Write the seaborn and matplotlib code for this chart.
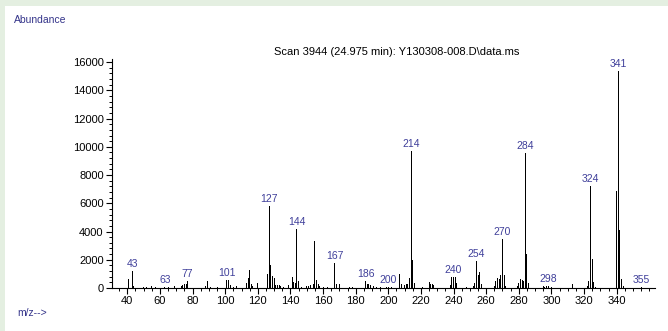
import matplotlib
matplotlib.use("Agg")
import matplotlib.pyplot as plt
from matplotlib.patches import Rectangle
from matplotlib.ticker import FixedLocator, MultipleLocator
import pandas as pd
import seaborn as sns

# Mass spectrum: m/z values and their abundances
mz = [41, 43, 44, 50, 52, 55, 57, 63, 65, 69, 73, 74, 75, 76, 77, 87, 88, 89, 91,
      95, 101, 102, 103, 105, 107, 113, 114, 115, 116, 117, 120, 126, 127, 128,
      129, 130, 131, 132, 133, 134, 136, 139, 141, 142, 143, 144, 145, 147, 150,
      151, 152, 154, 155, 156, 157, 158, 160, 163, 167, 168, 170, 176, 178, 186,
      187, 188, 189, 191, 193, 195, 199, 200, 202, 207, 208, 209, 210, 211, 212,
      213, 214, 215, 216, 221, 225, 226, 227, 228, 238, 239, 240, 241, 242, 248,
      252, 253, 254, 255, 256, 257, 265, 266, 267, 268, 269, 270, 271, 272, 279,
      280, 281, 282, 283, 284, 285, 286, 293, 295, 296, 297, 298, 300, 312, 313,
      322, 323, 324, 325, 326, 327, 340, 341, 342, 343, 344, 355]
abundance = [650, 1200, 120, 80, 100, 150, 80, 100, 60, 120, 150, 200, 250, 300,
             500, 250, 150, 500, 100, 80, 560, 540, 200, 100, 150, 350, 700, 1250,
             300, 120, 350, 970, 5800, 1600, 870, 700, 200, 200, 200, 150, 100,
             200, 750, 400, 350, 4200, 500, 100, 150, 150, 200, 250, 3300, 550,
             250, 150, 100, 100, 1750, 300, 300, 100, 100, 500, 280, 250, 200,
             150, 100, 100, 100, 100, 80, 970, 250, 200, 200, 250, 300, 700, 9700,
             2000, 350, 100, 400, 300, 250, 200, 200, 750, 800, 800, 330, 100,
             160, 350, 1900, 900, 1150, 300, 150, 520, 700, 650, 930, 3450, 920,
             160, 150, 320, 620, 600, 520, 9550, 2400, 380, 100, 150, 100, 150,
             150, 100, 350, 300, 150, 520, 7200, 2050, 450, 100, 6900, 15350,
             4100, 620, 150, 60]

# Peaks annotated with their m/z
labeled_mz = [43, 63, 77, 101, 127, 144, 167, 186, 200, 214, 240, 254, 270,
              284, 298, 324, 341, 355]

x_ticks = list(range(40, 341, 20))
y_ticks = list(range(0, 16001, 2000))

title = "Scan 3944 (24.975 min): Y130308-008.D\\data.ms"

sns.set_theme(style="ticks")
plt.rcParams["font.family"] = ["Liberation Sans", "DejaVu Sans"]

W, H = 668, 331
fig = plt.figure(figsize=(W / 100, H / 100), dpi=100, facecolor="white")

green = "#e4efe1"
fig.patches.append(Rectangle((0, 1 - 6 / H), 1, 6 / H, transform=fig.transFigure,
                             facecolor=green, edgecolor="none", zorder=0))
fig.patches.append(Rectangle((0, 0), 5 / W, 1, transform=fig.transFigure,
                             facecolor=green, edgecolor="none", zorder=0))

ax = fig.add_axes([112 / W, (H - 288) / H, (655 - 112) / W, (288 - 59.3) / H])
ax.set_facecolor("white")

df = pd.DataFrame({"mz": mz, "abundance": abundance})
sns.barplot(data=df, x="mz", y="abundance", native_scale=True, width=0.6,
            color="black", saturation=1, errorbar=None, linewidth=0, ax=ax)

ax.set_xlim(30.6, 363.5)
ax.set_ylim(0, 16200)
ax.xaxis.set_major_locator(FixedLocator(x_ticks))
ax.xaxis.set_minor_locator(MultipleLocator(5))
ax.yaxis.set_major_locator(FixedLocator(y_ticks))
ax.yaxis.set_minor_locator(MultipleLocator(400))
ax.set_xticklabels([str(t) for t in x_ticks])
ax.set_yticklabels([str(t) for t in y_ticks])
ax.set_xlabel("")
ax.set_ylabel("")

ax.tick_params(which="major", direction="out", length=4, width=0.8,
               color="black", labelsize=8, labelcolor="black", pad=2)
ax.tick_params(which="minor", direction="out", length=2.5, width=0.7,
               color="black")
sns.despine(ax=ax)
for side in ("left", "bottom"):
    ax.spines[side].set_color("black")
    ax.spines[side].set_linewidth(0.8)

label_color = "#3f3f9a"
lookup = dict(zip(mz, abundance))
for m in labeled_mz:
    ax.annotate(str(m), xy=(m, lookup[m]), xytext=(0, 1.5),
                textcoords="offset points", ha="center", va="bottom",
                fontsize=7.5, color=label_color)

fig.text(397 / W, 1 - 52 / H, title, ha="center", va="center", fontsize=8,
         color="black")
fig.text(14 / W, 1 - 20 / H, "Abundance", ha="left", va="center",
         fontsize=7.5, color="#34348a")
fig.text(17 / W, 1 - 313 / H, "m/z-->", ha="left", va="center",
         fontsize=7.5, color="#34348a")

fig.savefig("out.png", dpi=100, facecolor=fig.get_facecolor())
